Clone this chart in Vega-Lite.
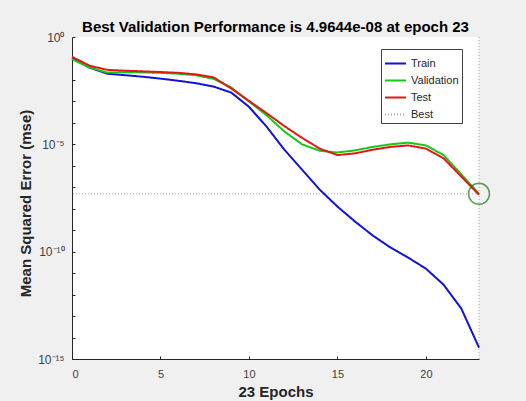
{
  "$schema": "https://vega.github.io/schema/vega-lite/v6.json",
  "autosize": {"type": "none"},
  "width": 407,
  "height": 322,
  "padding": {"left": 72, "top": 37, "right": 47, "bottom": 42},
  "background": "#f0f0f0",
  "config": {
    "view": {"fill": "white", "stroke": null},
    "font": "Liberation Sans"
  },
  "title": {
    "text": "Best Validation Performance is 4.9644e-08 at epoch 23",
    "fontSize": 15,
    "fontWeight": "bold",
    "color": "#000000",
    "anchor": "middle",
    "offset": -4
  },
  "datasets": {
    "perf": [
      {"series": "Train", "epoch": 0, "mse": 0.1},
      {"series": "Train", "epoch": 1, "mse": 0.0372},
      {"series": "Train", "epoch": 2, "mse": 0.0195},
      {"series": "Train", "epoch": 3, "mse": 0.0166},
      {"series": "Train", "epoch": 4, "mse": 0.0141},
      {"series": "Train", "epoch": 5, "mse": 0.0115},
      {"series": "Train", "epoch": 6, "mse": 0.00912},
      {"series": "Train", "epoch": 7, "mse": 0.00708},
      {"series": "Train", "epoch": 8, "mse": 0.0049},
      {"series": "Train", "epoch": 9, "mse": 0.00257},
      {"series": "Train", "epoch": 10, "mse": 0.000562},
      {"series": "Train", "epoch": 11, "mse": 6.61e-5},
      {"series": "Train", "epoch": 12, "mse": 5.62e-6},
      {"series": "Train", "epoch": 13, "mse": 6.61e-7},
      {"series": "Train", "epoch": 14, "mse": 7.76e-8},
      {"series": "Train", "epoch": 15, "mse": 1.26e-8},
      {"series": "Train", "epoch": 16, "mse": 2.51e-9},
      {"series": "Train", "epoch": 17, "mse": 5.62e-10},
      {"series": "Train", "epoch": 18, "mse": 1.55e-10},
      {"series": "Train", "epoch": 19, "mse": 5.25e-11},
      {"series": "Train", "epoch": 20, "mse": 1.62e-11},
      {"series": "Train", "epoch": 21, "mse": 2.88e-12},
      {"series": "Train", "epoch": 22, "mse": 2.24e-13},
      {"series": "Train", "epoch": 23, "mse": 3.39e-15},
      {"series": "Validation", "epoch": 0, "mse": 0.0933},
      {"series": "Validation", "epoch": 1, "mse": 0.038},
      {"series": "Validation", "epoch": 2, "mse": 0.0219},
      {"series": "Validation", "epoch": 3, "mse": 0.0229},
      {"series": "Validation", "epoch": 4, "mse": 0.0224},
      {"series": "Validation", "epoch": 5, "mse": 0.0214},
      {"series": "Validation", "epoch": 6, "mse": 0.0195},
      {"series": "Validation", "epoch": 7, "mse": 0.0166},
      {"series": "Validation", "epoch": 8, "mse": 0.0112},
      {"series": "Validation", "epoch": 9, "mse": 0.00447},
      {"series": "Validation", "epoch": 10, "mse": 0.001},
      {"series": "Validation", "epoch": 11, "mse": 0.000224},
      {"series": "Validation", "epoch": 12, "mse": 3.98e-5},
      {"series": "Validation", "epoch": 13, "mse": 1e-5},
      {"series": "Validation", "epoch": 14, "mse": 5.01e-6},
      {"series": "Validation", "epoch": 15, "mse": 4.17e-6},
      {"series": "Validation", "epoch": 16, "mse": 5.25e-6},
      {"series": "Validation", "epoch": 17, "mse": 7.59e-6},
      {"series": "Validation", "epoch": 18, "mse": 1e-5},
      {"series": "Validation", "epoch": 19, "mse": 1.2e-5},
      {"series": "Validation", "epoch": 20, "mse": 8.91e-6},
      {"series": "Validation", "epoch": 21, "mse": 3.16e-6},
      {"series": "Validation", "epoch": 22, "mse": 3.98e-7},
      {"series": "Validation", "epoch": 23, "mse": 4.9644e-8},
      {"series": "Test", "epoch": 0, "mse": 0.12},
      {"series": "Test", "epoch": 1, "mse": 0.0457},
      {"series": "Test", "epoch": 2, "mse": 0.0295},
      {"series": "Test", "epoch": 3, "mse": 0.0269},
      {"series": "Test", "epoch": 4, "mse": 0.0251},
      {"series": "Test", "epoch": 5, "mse": 0.0234},
      {"series": "Test", "epoch": 6, "mse": 0.0214},
      {"series": "Test", "epoch": 7, "mse": 0.0182},
      {"series": "Test", "epoch": 8, "mse": 0.0132},
      {"series": "Test", "epoch": 9, "mse": 0.00398},
      {"series": "Test", "epoch": 10, "mse": 0.00105},
      {"series": "Test", "epoch": 11, "mse": 0.000282},
      {"series": "Test", "epoch": 12, "mse": 7.08e-5},
      {"series": "Test", "epoch": 13, "mse": 2e-5},
      {"series": "Test", "epoch": 14, "mse": 6.31e-6},
      {"series": "Test", "epoch": 15, "mse": 3.16e-6},
      {"series": "Test", "epoch": 16, "mse": 3.8e-6},
      {"series": "Test", "epoch": 17, "mse": 5.62e-6},
      {"series": "Test", "epoch": 18, "mse": 7.59e-6},
      {"series": "Test", "epoch": 19, "mse": 8.91e-6},
      {"series": "Test", "epoch": 20, "mse": 6.31e-6},
      {"series": "Test", "epoch": 21, "mse": 2.24e-6},
      {"series": "Test", "epoch": 22, "mse": 3.16e-7},
      {"series": "Test", "epoch": 23, "mse": 4.47e-8}
    ],
    "best": [
      {"series": "Best", "epoch": 23, "mse": 4.9644e-8}
    ]
  },
  "layer": [
    {
      "data": {"name": "best"},
      "mark": {"type": "rule", "strokeWidth": 1},
      "encoding": {
        "y": {"field": "mse", "type": "quantitative"},
        "color": {"field": "series", "type": "nominal"},
        "strokeDash": {"field": "series", "type": "nominal"}
      }
    },
    {
      "data": {"name": "best"},
      "mark": {"type": "rule", "strokeWidth": 1},
      "encoding": {
        "x": {"field": "epoch", "type": "quantitative"},
        "color": {"field": "series", "type": "nominal"},
        "strokeDash": {"field": "series", "type": "nominal"}
      }
    },
    {
      "data": {"name": "perf"},
      "mark": {"type": "line", "strokeWidth": 2},
      "encoding": {
        "x": {
          "field": "epoch",
          "type": "quantitative",
          "scale": {"domain": [0, 23], "nice": false, "zero": false},
          "axis": {
            "title": "23 Epochs",
            "values": [0, 5, 10, 15, 20],
            "grid": false,
            "tickSize": -3,
            "labelPadding": 12,
            "domainColor": "#262626",
            "tickColor": "#262626",
            "labelColor": "#404040",
            "labelFontSize": 11,
            "titleFontSize": 15,
            "titleFontWeight": "bold",
            "titleColor": "#262626",
            "titlePadding": 5
          }
        },
        "y": {
          "field": "mse",
          "type": "quantitative",
          "scale": {"type": "log", "domain": [1e-15, 1], "nice": false},
          "axis": {
            "title": "Mean Squared Error  (mse)",
            "values": [1, 0.1, 0.01, 0.001, 1e-4, 1e-5, 1e-6, 1e-7, 1e-8, 1e-9, 1e-10, 1e-11, 1e-12, 1e-13, 1e-14, 1e-15],
            "labelExpr": "round(log(datum.value)/LN10) == 0 ? '10⁰' : round(log(datum.value)/LN10) == -5 ? '10⁻⁵' : round(log(datum.value)/LN10) == -10 ? '10⁻¹⁰' : round(log(datum.value)/LN10) == -15 ? '10⁻¹⁵' : ''",
            "grid": false,
            "tickSize": -3,
            "labelPadding": 11,
            "labelFlush": false,
            "labelOverlap": false,
            "domainColor": "#262626",
            "tickColor": "#262626",
            "labelColor": "#404040",
            "labelFontSize": 12,
            "titleFontSize": 15,
            "titleFontWeight": "bold",
            "titleColor": "#262626",
            "titleX": -39,
            "titleY": 166
          }
        },
        "color": {
          "field": "series",
          "type": "nominal",
          "scale": {
            "domain": ["Train", "Validation", "Test", "Best"],
            "range": ["#1212d8", "#18c818", "#e01818", "#a8a8a8"]
          },
          "legend": {
            "title": null,
            "orient": "none",
            "legendX": 309,
            "legendY": 12,
            "symbolType": "stroke",
            "symbolSize": 441,
            "symbolStrokeWidth": 2,
            "labelFontSize": 11,
            "labelColor": "#262626",
            "labelOffset": 4,
            "labelLimit": 60,
            "rowPadding": -1,
            "padding": 3,
            "strokeColor": "#404040",
            "fillColor": "white"
          }
        },
        "strokeDash": {
          "field": "series",
          "type": "nominal",
          "scale": {
            "domain": ["Train", "Validation", "Test", "Best"],
            "range": [[1, 0], [1, 0], [1, 0], [1, 2]]
          },
          "legend": {
            "title": null,
            "orient": "none",
            "legendX": 309,
            "legendY": 12,
            "symbolType": "stroke",
            "symbolSize": 441,
            "symbolStrokeWidth": 2,
            "labelFontSize": 11,
            "labelColor": "#262626",
            "labelOffset": 4,
            "labelLimit": 60,
            "rowPadding": -1,
            "padding": 3,
            "strokeColor": "#404040",
            "fillColor": "white"
          }
        }
      }
    },
    {
      "data": {"name": "best"},
      "mark": {"type": "point", "shape": "circle", "size": 440, "filled": false, "stroke": "#1a7a1a", "strokeWidth": 1.5},
      "encoding": {
        "x": {"field": "epoch", "type": "quantitative"},
        "y": {"field": "mse", "type": "quantitative"}
      }
    }
  ]
}
